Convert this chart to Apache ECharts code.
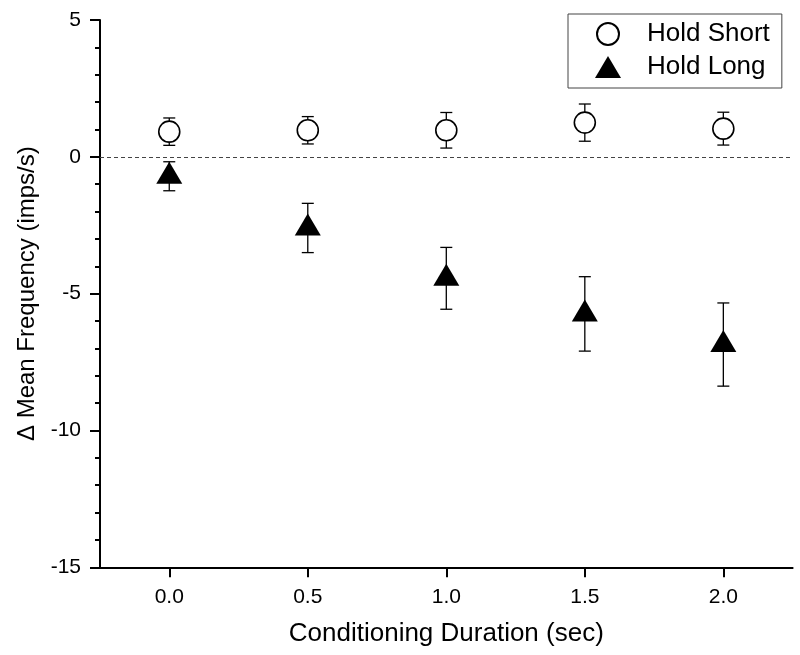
<!DOCTYPE html>
<html>
<head>
<meta charset="utf-8">
<script src="https://cdn.jsdelivr.net/npm/echarts@6/dist/echarts.min.js"></script>
<style>html,body{margin:0;padding:0;background:#fff}#c{width:800px;height:655px}</style>
</head>
<body>
<div id="c"></div>
<script>
const durations = [0, 0.5, 1.0, 1.5, 2.0];
const holdShortMean = [0.92, 0.97, 0.97, 1.25, 1.03];
const holdShortErr = [0.50, 0.50, 0.65, 0.68, 0.60];
const holdLongMean = [-0.71, -2.60, -4.44, -5.74, -6.86];
const holdLongErr = [0.53, 0.90, 1.13, 1.36, 1.52];
const xTicks = [0, 0.5, 1.0, 1.5, 2.0];

const FONT = "'Liberation Sans', Arial, Helvetica, sans-serif";
const chart = echarts.init(document.getElementById('c'), null, {renderer: 'canvas'});

function pts(means) { return durations.map((d, i) => [d, means[i]]); }
function errs(means, e) { return durations.map((d, i) => [d, means[i], e[i]]); }

function errRender(params, api) {
  const x = api.value(0), y = api.value(1), e = api.value(2);
  const top = api.coord([x, y + e]);
  const bot = api.coord([x, y - e]);
  const h = 6;
  const st = {stroke: '#000', lineWidth: 1.3};
  return {
    type: 'group',
    children: [
      {type: 'line', shape: {x1: top[0], y1: top[1], x2: bot[0], y2: bot[1]}, style: st},
      {type: 'line', shape: {x1: top[0] - h, y1: top[1], x2: top[0] + h, y2: top[1]}, style: st},
      {type: 'line', shape: {x1: bot[0] - h, y1: bot[1], x2: bot[0] + h, y2: bot[1]}, style: st}
    ]
  };
}

chart.setOption({
  animation: false,
  backgroundColor: '#fff',
  textStyle: {fontFamily: FONT, color: '#000'},
  grid: {left: 100, right: 7.4, top: 20, bottom: 87.7, containLabel: false},
  legend: {
    orient: 'vertical',
    left: 568, top: 14,
    data: ['Hold Short', 'Hold Long'],
    itemWidth: 26, itemHeight: 22, itemGap: 7,
    padding: [7, 12, 8, 27],
    borderColor: '#444', borderWidth: 1,
    backgroundColor: '#fff',
    textStyle: {fontFamily: FONT, fontSize: 26, color: '#000', lineHeight: 22, padding: [0, 0, 0, 21]},
    selectedMode: false
  },
  xAxis: {
    type: 'value',
    min: -0.25, max: 2.25,
    name: 'Conditioning Duration (sec)',
    nameLocation: 'middle',
    nameGap: 54,
    nameTextStyle: {fontFamily: FONT, fontSize: 26, color: '#000'},
    axisLine: {show: true, onZero: false, lineStyle: {color: '#000', width: 2}},
    axisTick: {show: true, length: 10, lineStyle: {color: '#000', width: 2}, customValues: xTicks},
    axisLabel: {fontFamily: FONT, fontSize: 21, color: '#000', margin: 19, customValues: xTicks,
      formatter: v => Number(v).toFixed(1)},
    splitLine: {show: false}
  },
  yAxis: {
    type: 'value',
    min: -15, max: 5, interval: 5,
    name: '\u0394 Mean Frequency (imps/s)',
    nameLocation: 'middle',
    nameGap: 52,
    nameTextStyle: {fontFamily: FONT, fontSize: 24, color: '#000'},
    axisLine: {show: true, onZero: false, lineStyle: {color: '#000', width: 2}},
    axisTick: {show: true, length: 10, lineStyle: {color: '#000', width: 2}},
    minorTick: {show: true, splitNumber: 5, length: 5, lineStyle: {color: '#000', width: 2}},
    axisLabel: {fontFamily: FONT, fontSize: 21, color: '#000', margin: 19},
    splitLine: {show: false}
  },
  series: [
    {
      type: 'custom', name: 'errShort', renderItem: errRender,
      data: errs(holdShortMean, holdShortErr), encode: {x: 0, y: 1}, z: 1, silent: true,
      markLine: {
        silent: true, symbol: 'none', label: {show: false},
        lineStyle: {color: '#444', width: 1, type: [4, 3]},
        data: [{yAxis: 0}]
      }
    },
    {
      type: 'custom', name: 'errLong', renderItem: errRender,
      data: errs(holdLongMean, holdLongErr), encode: {x: 0, y: 1}, z: 1, silent: true
    },
    {
      type: 'scatter', name: 'Hold Short', data: pts(holdShortMean), z: 3,
      symbol: 'circle', symbolSize: 21,
      itemStyle: {color: '#fff', borderColor: '#000', borderWidth: 1.6, opacity: 1}
    },
    {
      type: 'scatter', name: 'Hold Long', data: pts(holdLongMean), z: 3,
      symbol: 'triangle', symbolSize: [26, 22], symbolOffset: [0, -3.5],
      itemStyle: {color: '#000', borderColor: '#000', borderWidth: 0, opacity: 1}
    }
  ]
});
</script>
</body>
</html>
